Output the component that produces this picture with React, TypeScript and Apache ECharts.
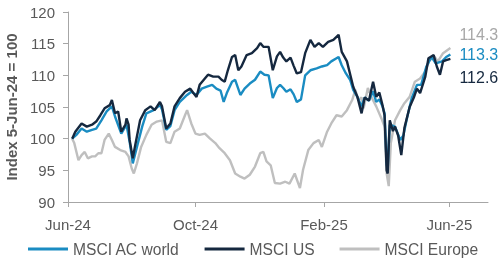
import React, { useEffect, useRef } from "react";
import * as echarts from "echarts";

// Days since 1-Jun-2024 and index values (5-Jun-24 = 100)
const BASE_DATE = Date.UTC(2024, 5, 1);
const DAY_MS = 86400000;
const AXIS_END_DAY = 402;

const tickDates = ["2024-06-01", "2024-10-01", "2025-02-01", "2025-06-01"];
const monthNames = ["Jan", "Feb", "Mar", "Apr", "May", "Jun", "Jul", "Aug", "Sep", "Oct", "Nov", "Dec"];

const seriesNames = ["MSCI AC world", "MSCI US", "MSCI Europe"];

const worldDays = [4, 8, 13, 18, 23, 27, 32, 37, 42, 45, 51, 56, 59, 62, 66, 71, 75, 82, 88, 90, 94, 98, 102, 107, 114, 118, 123, 128, 133, 138, 142, 146, 149, 152, 157, 160, 165, 169, 174, 179, 184, 188, 192, 196, 200, 203, 206, 209, 213, 216, 219, 223, 227, 232, 238, 243, 248, 252, 257, 259, 262, 266, 270, 273, 277, 281, 284, 288, 292, 295, 298, 301, 303, 305, 306, 307, 308, 313, 318, 321, 324, 329, 334, 338, 343, 348, 352, 358, 362, 366];
const worldValues = [100.0, 100.6, 101.6, 101.1, 101.4, 101.6, 102.9, 104.3, 105.1, 103.5, 100.8, 102.2, 99.5, 96.1, 98.7, 101.9, 104.0, 104.5, 105.3, 104.6, 101.4, 102.0, 104.5, 105.8, 106.9, 107.4, 106.9, 107.9, 108.2, 108.5, 107.9, 107.6, 105.8, 107.2, 109.0, 109.3, 106.9, 107.9, 108.7, 109.3, 110.6, 110.1, 110.0, 106.4, 108.0, 108.5, 108.0, 107.4, 107.8, 107.0, 105.8, 106.2, 110.0, 110.8, 111.1, 111.4, 111.6, 112.2, 112.7, 112.9, 111.6, 110.3, 109.3, 107.7, 106.6, 105.1, 106.5, 106.0, 107.5, 105.8, 106.2, 105.1, 104.0, 96.0, 95.2, 99.0, 102.2, 101.9, 99.8, 100.5, 102.9, 106.4, 108.5, 108.5, 111.4, 112.9, 111.9, 112.2, 112.9, 113.3];

const usDays = [4, 7, 13, 18, 23, 27, 31, 35, 40, 42, 45, 48, 51, 55, 56, 58, 59, 62, 64, 69, 74, 79, 83, 88, 90, 94, 98, 102, 107, 112, 117, 120, 123, 126, 131, 134, 139, 144, 147, 150, 153, 157, 160, 163, 166, 171, 176, 181, 184, 187, 192, 196, 200, 203, 206, 209, 213, 216, 219, 223, 227, 232, 236, 240, 244, 249, 254, 259, 262, 267, 273, 277, 281, 284, 288, 292, 295, 298, 301, 303, 305, 306, 307, 308, 311, 313, 316, 319, 322, 327, 331, 334, 337, 342, 345, 350, 353, 356, 359, 362, 366];
const usValues = [100.0, 101.1, 102.4, 101.9, 102.2, 102.7, 103.7, 104.8, 105.3, 106.1, 104.0, 104.3, 101.1, 102.2, 103.2, 102.2, 99.8, 96.9, 98.7, 102.9, 104.5, 105.1, 104.5, 105.8, 105.1, 101.6, 102.4, 105.1, 106.4, 107.4, 107.9, 107.2, 106.6, 108.5, 109.5, 110.1, 109.8, 109.8, 109.3, 109.0, 110.8, 112.9, 113.2, 110.8, 111.4, 113.2, 113.5, 114.3, 115.1, 114.5, 114.5, 110.8, 113.0, 113.7, 112.8, 112.2, 112.8, 111.5, 110.3, 110.5, 113.5, 115.6, 114.5, 115.1, 114.5, 115.3, 115.6, 116.4, 113.7, 112.2, 108.2, 106.6, 104.0, 106.5, 106.0, 109.0, 106.6, 107.3, 105.3, 103.7, 95.0, 94.5, 99.0, 102.9, 101.2, 101.9, 100.5, 97.4, 101.7, 105.0, 106.5, 107.9, 107.2, 109.8, 112.7, 113.2, 111.4, 110.1, 112.2, 112.4, 112.6];

const europeDays = [4, 6, 10, 13, 16, 19, 23, 26, 29, 32, 35, 39, 42, 45, 50, 55, 58, 61, 63, 66, 70, 75, 80, 85, 90, 94, 98, 102, 107, 112, 114, 118, 122, 126, 131, 136, 141, 145, 150, 155, 160, 165, 169, 174, 179, 184, 187, 190, 194, 198, 203, 208, 212, 217, 222, 225, 230, 235, 240, 243, 248, 252, 257, 262, 267, 272, 275, 278, 281, 283, 287, 291, 295, 300, 303, 305, 307, 309, 313, 318, 322, 327, 332, 337, 342, 346, 351, 354, 359, 366];
const europeValues = [100.0, 99.3, 96.6, 97.4, 97.9, 96.9, 97.2, 97.2, 97.7, 97.7, 99.8, 100.8, 99.8, 98.7, 98.2, 97.9, 97.2, 95.3, 94.5, 96.1, 98.7, 100.6, 102.2, 102.7, 102.9, 99.5, 99.3, 101.1, 101.6, 103.7, 104.5, 102.4, 100.8, 100.6, 100.8, 100.0, 99.3, 98.5, 97.7, 96.6, 94.5, 94.0, 93.7, 94.3, 95.6, 97.7, 97.9, 96.4, 95.8, 93.0, 92.9, 93.2, 92.9, 94.5, 92.2, 95.1, 98.2, 99.3, 99.8, 98.7, 101.1, 102.4, 103.7, 103.5, 104.5, 106.1, 107.7, 106.1, 106.5, 104.8, 108.0, 106.4, 105.1, 103.2, 101.9, 94.5, 92.5, 99.3, 102.9, 104.5, 105.6, 106.6, 109.0, 109.5, 110.6, 112.4, 112.9, 112.2, 113.5, 114.3];

const yTicks = { min: 90, max: 120, interval: 5 };
const yAxisName = "Index 5-Jun-24 = 100";

const colors = ["#1a8cc2", "#15283f", "#bfbfbf"];
const endLabelColors = ["#1a8cc2", "#15283f", "#a8a8a8"];

const FONT = "'Liberation Sans', Arial, sans-serif";
const TEXT = "#595959";
const AXIS = "#a6a6a6";

function toPoints(days: number[], values: number[]) {
  return days.map((d, i) => [BASE_DATE + d * DAY_MS, values[i]]);
}

function fmtDate(v: number) {
  const d = new Date(v);
  return monthNames[d.getUTCMonth()] + "-" + String(d.getUTCFullYear()).slice(2);
}

export default function App() {
  const ref = useRef<HTMLDivElement>(null);
  useEffect(() => {
    if (!ref.current) return;
    const chart = echarts.init(ref.current, null, { renderer: "svg" });
    const tickValues = tickDates.map((s) => Date.parse(s + "T00:00:00Z"));
    const data = [
      toPoints(worldDays, worldValues),
      toPoints(usDays, usValues),
      toPoints(europeDays, europeValues),
    ];
    const labelOffsets = [
      [0, 0],
      [0, 19],
      [0, -14],
    ];
    chart.setOption({
      animation: false,
      textStyle: { fontFamily: FONT },
      grid: { left: 68, right: 16, top: 12, bottom: 58, outerBoundsMode: "none", containLabel: false },
      legend: {
        left: 23,
        top: 236,
        itemWidth: 40,
        itemHeight: 3,
        itemGap: 25,
        icon: "rect",
        textStyle: { color: TEXT, fontSize: 15.6, fontFamily: FONT },
        data: seriesNames,
      },
      xAxis: {
        type: "value",
        min: BASE_DATE,
        max: BASE_DATE + AXIS_END_DAY * DAY_MS,
        scale: true,
        splitLine: { show: false },
        axisLine: { lineStyle: { color: AXIS, width: 1 } },
        axisTick: { show: true, length: 5, customValues: tickValues, lineStyle: { color: AXIS } },
        axisLabel: {
          customValues: tickValues,
          formatter: (v: number) => fmtDate(v),
          color: TEXT,
          fontSize: 15,
          fontFamily: FONT,
          margin: 15,
          hideOverlap: false,
        },
      },
      yAxis: {
        type: "value",
        min: yTicks.min,
        max: yTicks.max,
        interval: yTicks.interval,
        name: yAxisName,
        nameLocation: "middle",
        nameGap: 48,
        nameTextStyle: { color: TEXT, fontSize: 15, fontWeight: "bold", fontFamily: FONT },
        splitLine: { show: false },
        axisLine: { show: true, lineStyle: { color: AXIS, width: 1 } },
        axisTick: { show: true, length: 5, lineStyle: { color: AXIS } },
        axisLabel: { color: TEXT, fontSize: 15, fontFamily: FONT, margin: 13 },
      },
      series: seriesNames.map((name, i) => ({
        name,
        type: "line",
        data: data[i],
        showSymbol: false,
        symbol: "none",
        z: i === 2 ? 1 : i + 2,
        lineStyle: { color: colors[i], width: 2.4 },
        itemStyle: { color: colors[i] },
        endLabel: {
          show: true,
          distance: 9,
          offset: labelOffsets[i],
          formatter: (p: any) => Number(p.value[1]).toFixed(1),
          color: endLabelColors[i],
          fontSize: 16,
          fontFamily: FONT,
        },
      })),
    });
    return () => chart.dispose();
  }, []);
  return (
    <div
      ref={ref}
      style={{ position: "fixed", left: 0, top: 0, width: 504, height: 260 }}
    />
  );
}
